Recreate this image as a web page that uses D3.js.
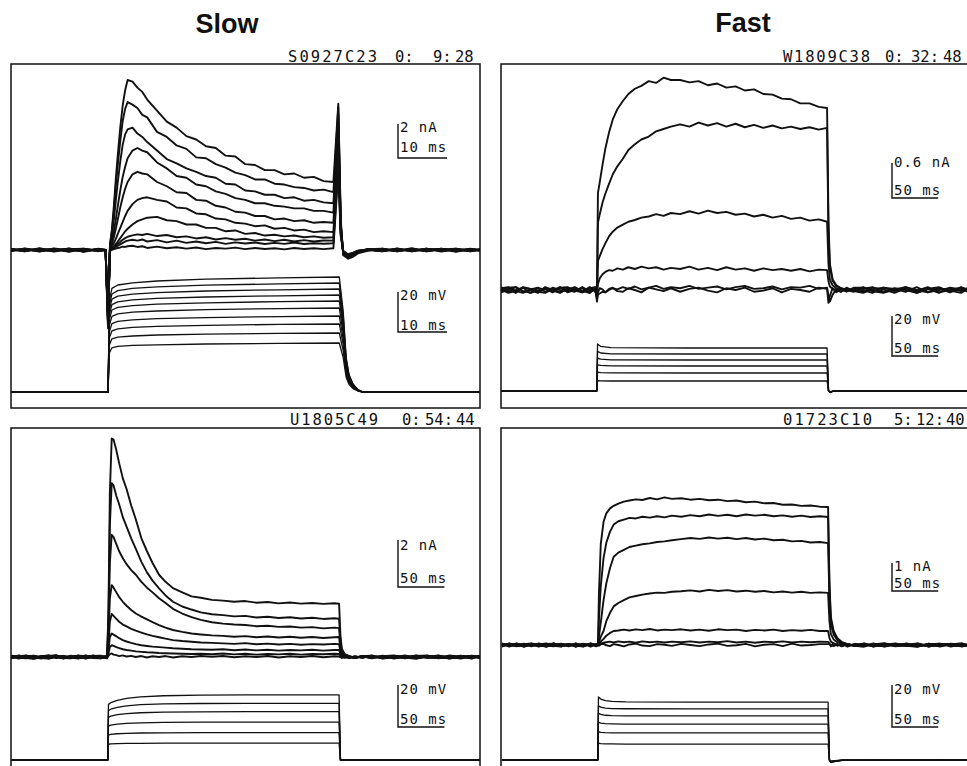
<!DOCTYPE html>
<html>
<head>
<meta charset="utf-8">
<script src="https://cdn.jsdelivr.net/npm/d3@7/dist/d3.min.js"></script>
<style>
  html, body { margin: 0; padding: 0; background: #fff; }
  svg { display: block; }
  .title { font-family: "Liberation Sans", Arial, sans-serif; font-weight: bold; font-size: 27px; fill: #111; }
  .hdr { font-family: "DejaVu Sans Mono", monospace; font-size: 15.5px; fill: #111; }
  .lbl { font-family: "DejaVu Sans Mono", monospace; font-size: 14px; letter-spacing: 1px; fill: #111; white-space: pre; }
</style>
</head>
<body>
<svg id="fig" width="967" height="766"></svg>
<script>
// ---------------- Slow channel, cell S0927C23 (10 ms scale) ----------------
const slowATime = [-20,-17,-14,-11,-8,-5,-2,-0.5, 0,0.4,0.8,1.2,1.6,2,2.5,3,3.5,4,
  5,6,7,8,10,12,14,16,18,20,22,24,26,28,30,32,34,36,38,40,42,44,46,
  46.5,47,47.5,48,49,50,51,53, 56,59,62,65,68,71,74,76];
// membrane current, nA
const slowACurrent = [
  [0.05,-0.08,0.1,-0.05,0.08,-0.1,0.04,0.0, -4.6,0.3,1.2,2.6,4.2,5.6,7.2,8.5,9.4,10.0, 9.9,9.55,9.3,8.85,8.2,7.55,7.2,6.7,6.5,6.1,6.0,5.55,5.5,5.05,5.0,4.7,4.7,4.45,4.5,4.25,4.3,4.05,4.0, 6.3,8.6,1.8,-0.3,-0.5,-0.4,-0.2,-0.05, 0.08,-0.06,0.1,-0.08,0.05,-0.1,0.06,0.0],
  [-0.06,0.09,-0.04,0.07,-0.1,0.05,-0.07,0.02, -4.4,0.3,1.1,2.3,3.8,5.0,6.4,7.6,8.3,8.7, 8.55,8.35,7.95,7.8,6.95,6.65,6.15,5.95,5.45,5.4,5.05,4.85,4.55,4.4,4.15,4.15,3.9,3.85,3.7,3.65,3.5,3.55,3.4, 5.9,8.4,1.6,-0.25,-0.45,-0.35,-0.15,0.04, -0.07,0.09,-0.05,0.07,-0.09,0.04,-0.06,0.03],
  [0.08,-0.05,0.06,-0.09,0.04,0.07,-0.05,0.0, -4.3,0.2,0.8,1.8,2.9,4.0,5.2,6.2,6.8,7.1, 7.2,6.85,6.65,6.35,5.85,5.35,5.1,4.8,4.6,4.35,4.25,3.9,3.85,3.5,3.45,3.25,3.25,3.05,3.1,2.9,2.95,2.8,2.75, 5.4,8.0,1.5,-0.2,-0.5,-0.3,-0.12,0.0, 0.06,-0.08,0.05,-0.04,0.08,-0.07,0.05,-0.03],
  [-0.04,0.06,-0.09,0.05,0.02,-0.08,0.07,0.0, -4.2,0.15,0.5,1.1,1.8,2.6,3.5,4.3,4.9,5.4, 5.85,6.0,5.85,5.75,5.15,4.8,4.35,4.25,3.85,3.75,3.45,3.3,3.05,2.95,2.75,2.75,2.6,2.55,2.45,2.45,2.3,2.3,2.2, 4.9,7.6,1.4,-0.2,-0.45,-0.3,-0.1,0.03, -0.05,0.07,-0.08,0.04,0.06,-0.05,0.08,-0.04],
  [0.07,-0.03,0.05,-0.06,0.09,-0.04,0.03,0.0, -4.1,0.1,0.35,0.75,1.25,1.8,2.5,3.1,3.6,4.0, 4.45,4.6,4.5,4.45,4.0,3.75,3.4,3.35,2.95,2.9,2.6,2.5,2.25,2.2,2.0,2.0,1.8,1.85,1.7,1.75,1.6,1.65,1.6, 4.2,7.0,1.3,-0.15,-0.4,-0.25,-0.08,0.05, 0.04,-0.06,0.07,-0.05,0.03,0.08,-0.06,0.02],
  [-0.05,0.08,-0.02,0.06,-0.07,0.04,-0.03,0.0, -4.0,0.05,0.2,0.4,0.65,0.95,1.3,1.65,2.0,2.3, 2.7,2.95,3.05,3.1,2.95,2.85,2.5,2.45,2.15,2.1,1.85,1.8,1.6,1.55,1.4,1.45,1.25,1.3,1.15,1.2,1.05,1.1,1.05, 3.6,6.5,1.2,-0.15,-0.4,-0.25,-0.1,0.0, -0.08,0.05,-0.04,0.08,-0.06,0.03,-0.07,0.04],
  [0.03,-0.07,0.08,-0.03,0.05,-0.09,0.06,0.0, -3.9,0.02,0.1,0.2,0.35,0.5,0.7,0.9,1.1,1.25, 1.5,1.7,1.8,1.9,1.95,1.75,1.7,1.5,1.5,1.3,1.3,1.1,1.15,0.95,1.0,0.85,0.9,0.8,0.85,0.75,0.8,0.72,0.75, 3.3,6.0,1.1,-0.1,-0.35,-0.2,-0.05,0.04, 0.07,-0.04,0.06,-0.08,0.05,-0.03,0.06,-0.02],
  [-0.07,0.04,-0.06,0.09,-0.03,0.06,-0.04,0.0, -3.8,0.02,0.08,0.15,0.25,0.35,0.48,0.6,0.7,0.78, 0.86,0.92,0.88,0.95,0.82,0.88,0.75,0.8,0.68,0.75,0.62,0.7,0.6,0.66,0.55,0.62,0.52,0.6,0.5,0.58,0.5,0.56,0.55, 3.0,5.5,1.0,-0.1,-0.3,-0.2,-0.06,0.02, -0.04,0.06,-0.07,0.05,-0.05,0.07,-0.03,0.05],
  [0.05,-0.05,0.03,-0.07,0.07,-0.02,0.05,0.0, -3.7,0.0,0.05,0.1,0.18,0.25,0.33,0.42,0.5,0.55, 0.6,0.55,0.62,0.5,0.58,0.45,0.55,0.42,0.5,0.4,0.48,0.36,0.45,0.38,0.44,0.35,0.42,0.36,0.44,0.35,0.4,0.37,0.4, 2.7,5.0,0.9,-0.08,-0.3,-0.18,-0.05,0.0, 0.05,-0.07,0.04,-0.06,0.07,-0.05,0.04,-0.06],
  [-0.03,0.06,-0.08,0.03,-0.05,0.08,-0.06,0.0, -3.6,-0.05,0.0,0.05,0.08,0.12,0.15,0.2,0.18,0.22, 0.25,0.18,0.22,0.12,0.2,0.1,0.16,0.08,0.15,0.05,0.12,0.08,0.14,0.05,0.12,0.06,0.1,0.04,0.12,0.06,0.1,0.05,0.1, 2.4,4.5,0.8,-0.05,-0.25,-0.15,-0.04,0.03, -0.06,0.04,-0.05,0.08,-0.04,0.05,-0.08,0.03]
];
const slowAVoltTime = [-20,0,0.3,0.8,2,5,10,20,35,47.2,48,48.6,49.2,50,51,52,76];
// command potential above holding, mV
const slowAVolt = [
  [0,0,46,51.8,53.5,54.6,55.5,56.4,57.1,57.5,40.3,17.3,8.6,4.0,1.2,0,0],
  [0,0,43.6,49,50.7,51.8,52.6,53.4,54.1,54.5,38.2,16.4,8.2,3.8,1.1,0,0],
  [0,0,41.2,46.4,47.9,48.9,49.7,50.5,51.1,51.5,36,15.5,7.7,3.6,1,0,0],
  [0,0,38.8,43.7,45.1,46.1,46.8,47.5,48.1,48.5,34,14.6,7.3,3.4,1,0,0],
  [0,0,36.4,41,42.3,43.2,43.9,44.6,45.2,45.5,31.9,13.7,6.8,3.2,0.9,0,0],
  [0,0,33.6,37.8,39.1,39.9,40.5,41.2,41.7,42,29.4,12.6,6.3,2.9,0.8,0,0],
  [0,0,30.4,34.2,35.3,36.1,36.7,37.2,37.7,38,26.6,11.4,5.7,2.7,0.8,0,0],
  [0,0,27.2,30.6,31.6,32.3,32.8,33.3,33.8,34,23.8,10.2,5.1,2.4,0.7,0,0],
  [0,0,23.6,26.6,27.4,28,28.5,28.9,29.3,29.5,20.7,8.9,4.4,2.1,0.6,0,0],
  [0,0,19.6,22.1,22.8,23.3,23.6,24,24.3,24.5,17.2,7.4,3.7,1.7,0.5,0,0]
];
const slowAHeader = ["S0927C23", "0:", "9:", "28"];
const slowABars = { current: 2, voltage: 20, time: 10 };

// ---------------- Fast channel, cell W1809C38 (50 ms scale) ----------------
const fastTime = [-104,-96,-88,-80,-72,-64,-56,-48,-40,-32,-24,-16,-8,-2,
  0,1,3,6,9,13,17,22,28,34,41,48,56,64,72,80,
  90,100,110,120,130,140,150,160,170,180,190,200,210,220,230,240,
  249, 250.5,252,255,259,264,270,278,
  288,298,310,322,334,346,358,370,382,394,403];
const fastACurrent = [
  [0.03,0.05,-0.02,-0.05,0.01,0.04,-0.03,-0.01,0.05,-0.04,0.0,0.03,-0.05,0.02, -0.1,1.66,1.85,2.15,2.42,2.7,2.92,3.1,3.24,3.36,3.45,3.5,3.58,3.55,3.64,3.6, 3.6,3.56,3.58,3.51,3.54,3.47,3.49,3.42,3.44,3.36,3.35,3.28,3.27,3.2,3.2,3.14, 3.12, 1.2,0.45,0.18,0.08,0.03,0.0,-0.03, 0.05,-0.01,-0.04,0.03,0.0,-0.05,0.02,0.05,-0.03,0.01,-0.02],
  [-0.04,0.0,0.05,-0.02,-0.05,0.03,0.01,-0.03,0.04,0.05,-0.01,-0.04,0.02,-0.02, -0.12,1.15,1.3,1.5,1.65,1.82,1.98,2.12,2.25,2.4,2.5,2.58,2.63,2.72,2.76,2.8, 2.84,2.8,2.87,2.82,2.86,2.8,2.85,2.79,2.83,2.78,2.82,2.77,2.8,2.76,2.79,2.75, 2.78, 1.0,0.4,0.16,0.07,0.03,0.0,0.02, -0.03,0.04,0.01,-0.05,0.03,-0.01,0.05,-0.04,0.0,0.04,-0.05],
  [0.01,-0.05,-0.02,0.04,0.02,-0.04,0.05,-0.01,-0.05,0.03,0.0,-0.03,0.05,-0.01, -0.1,0.5,0.58,0.7,0.8,0.92,1.0,1.07,1.12,1.17,1.2,1.24,1.26,1.3,1.27,1.32, 1.3,1.35,1.31,1.36,1.32,1.34,1.29,1.31,1.26,1.29,1.24,1.27,1.22,1.24,1.19,1.21, 1.17, 0.45,0.18,0.08,0.03,0.01,-0.02,0.02, 0.02,0.05,-0.03,-0.01,0.04,-0.05,0.01,0.03,-0.04,0.05,0.0],
  [-0.02,0.04,0.05,-0.03,0.0,-0.05,0.03,0.02,-0.04,0.01,0.05,-0.02,-0.05,0.04, -0.08,0.1,0.2,0.27,0.31,0.34,0.33,0.37,0.35,0.39,0.36,0.4,0.37,0.39,0.35,0.38, 0.36,0.4,0.35,0.38,0.34,0.39,0.35,0.37,0.33,0.37,0.34,0.36,0.33,0.36,0.32,0.35, 0.34, 0.15,0.06,0.02,0.0,-0.03,0.02,-0.02, -0.05,0.01,0.04,-0.02,0.05,0.0,-0.04,0.03,-0.01,-0.05,0.04],
  [0.05,-0.03,0.0,0.04,-0.05,-0.01,0.03,-0.04,0.04,0.0,-0.03,0.05,-0.02,0.01, -0.15,-0.08,-0.06,-0.03,-0.04,0.0,0.03,0.01,0.05,0.02,0.06,0.01,0.04,0.07,0.02,0.05, 0.03,0.07,0.02,0.04,0.06,0.01,0.05,0.07,0.02,0.03,0.06,0.01,0.05,0.04,0.07,0.02, 0.04, -0.1,-0.2,-0.08,0.02,-0.03,0.04,-0.02, 0.0,-0.05,0.04,0.02,-0.03,0.05,-0.04,0.0,0.03,-0.02,0.05],
  [-0.01,0.03,-0.05,0.05,0.02,-0.03,-0.05,0.04,0.0,-0.02,0.04,-0.04,0.03,0.05, -0.2,-0.04,0.03,0.01,-0.04,0.02,0.04,-0.02,-0.03,0.03,0.0,-0.04,0.04,0.01,-0.02,0.03, -0.03,0.02,0.04,-0.01,-0.04,0.03,0.0,0.04,-0.03,-0.01,0.03,-0.04,0.02,0.0,-0.03,0.04, 0.02, -0.22,-0.1,0.03,-0.04,0.02,-0.03,0.04, 0.04,-0.02,-0.05,0.01,0.05,-0.03,0.02,-0.05,0.04,0.01,-0.03]
];
const fastAVoltTime = [-104,-0.3,0.6,4,15,100,249,250.6,252.5,256,403];
const fastAVolt = [
  [0,0,23.5,22.3,21.7,21.5,21.5,0,-0.8,0,0],
  [0,0,19.8,19,18.6,18.5,18.5,0,-0.7,0,0],
  [0,0,16.4,15.9,15.6,15.5,15.5,0,-0.6,0,0],
  [0,0,13.1,12.8,12.6,12.5,12.5,0,-0.5,0,0],
  [0,0,9.4,9.2,9.05,9,9,0,-0.4,0,0],
  [0,0,5.2,5.1,5,5,5,0,-0.3,0,0]
];
const fastAHeader = ["W1809C38", "0:", "32:", "48"];
const fastABars = { current: 0.6, voltage: 20, time: 50 };

// ---------------- Slow channel, cell U1805C49 (50 ms scale) ----------------
const slowBTime = [-104,-96,-88,-80,-72,-64,-56,-48,-40,-32,-24,-16,-8,-1,
  0.5,2,4,6,9,12,16,20,25,30,36,42,48,55,62,70,80,90,100,
  112,124,136,148,160,172,184,196,208,220,232,244,
  249, 250.5,252,255,260,266,274,
  284,296,308,320,332,344,356,368,380,392,401];
const slowBCurrent = [
  [0.06,0.02,-0.05,-0.08,0.03,0.07,-0.02,-0.06,0.05,0.0,-0.07,0.04,0.06,-0.03, 2.0,7.0,9.3,9.25,8.8,8.25,7.6,7.15,6.45,5.85,5.05,4.5,4.0,3.5,3.2,2.93,2.75,2.58,2.52, 2.43,2.4,2.35,2.38,2.31,2.34,2.28,2.32,2.27,2.3,2.26,2.29, 2.27, 0.9,0.35,0.12,0.04,-0.03,0.04, -0.05,0.03,0.07,-0.02,-0.08,0.04,0.01,-0.06,0.06,-0.01,0.03],
  [-0.04,0.06,0.01,-0.07,-0.02,0.05,0.08,-0.04,-0.06,0.02,0.06,-0.03,0.0,0.05, 1.6,5.6,7.4,7.3,6.85,6.5,5.95,5.55,5.05,4.6,4.05,3.6,3.25,2.92,2.62,2.35,2.15,2.02,1.9, 1.82,1.78,1.73,1.75,1.68,1.71,1.66,1.69,1.64,1.67,1.62,1.65, 1.63, 0.65,0.26,0.1,0.03,-0.04,0.03, 0.06,-0.04,-0.01,0.07,-0.06,0.02,0.05,-0.07,0.0,0.04,-0.05],
  [0.02,-0.07,0.05,0.03,-0.04,-0.01,0.07,-0.05,0.02,0.06,-0.06,-0.02,0.05,-0.04, 1.2,4.0,5.2,5.1,4.8,4.5,4.2,3.95,3.7,3.5,3.2,2.95,2.75,2.5,2.3,2.05,1.85,1.7,1.58, 1.48,1.42,1.38,1.36,1.31,1.33,1.28,1.3,1.25,1.27,1.22,1.25, 1.23, 0.5,0.2,0.08,0.02,-0.03,0.03, -0.02,0.05,-0.07,0.01,0.06,-0.03,-0.05,0.07,0.0,-0.06,0.03],
  [-0.06,0.01,0.06,-0.03,0.05,-0.07,0.0,0.04,-0.05,0.07,0.02,-0.04,-0.06,0.03, 0.8,2.5,3.06,2.95,2.75,2.55,2.35,2.18,2.0,1.85,1.72,1.6,1.48,1.36,1.25,1.15,1.07,1.0,0.96, 0.92,0.9,0.86,0.89,0.84,0.87,0.83,0.86,0.82,0.85,0.81,0.84, 0.85, 0.35,0.14,0.05,0.01,-0.04,0.02, 0.04,-0.06,0.02,0.05,-0.04,0.0,0.07,-0.05,-0.02,0.06,-0.03],
  [0.04,-0.03,-0.06,0.05,0.0,0.07,-0.05,0.02,-0.02,-0.07,0.05,0.03,-0.04,0.06, 0.5,1.5,1.83,1.75,1.62,1.5,1.38,1.3,1.2,1.12,1.04,0.96,0.9,0.84,0.78,0.72,0.68,0.65,0.62, 0.6,0.58,0.56,0.59,0.54,0.57,0.53,0.56,0.52,0.55,0.53,0.56, 0.55, 0.22,0.09,0.03,0.0,-0.04,0.03, -0.06,0.02,0.05,-0.05,0.07,-0.01,-0.04,0.04,0.02,-0.07,0.05],
  [-0.02,0.07,-0.04,0.0,-0.07,0.04,0.05,-0.03,0.06,-0.05,-0.01,0.06,-0.06,0.01, 0.3,0.85,1.0,0.95,0.88,0.8,0.72,0.66,0.6,0.55,0.5,0.47,0.44,0.42,0.4,0.37,0.35,0.33,0.32, 0.31,0.33,0.29,0.32,0.28,0.31,0.27,0.3,0.28,0.31,0.27,0.3, 0.3, 0.12,0.05,0.0,-0.03,0.02,-0.04, 0.05,-0.07,0.0,0.03,-0.04,0.06,-0.02,-0.06,0.05,0.02,-0.04],
  [0.05,-0.05,0.03,0.06,-0.04,-0.07,0.02,0.05,-0.01,-0.05,0.07,-0.02,0.03,-0.06, 0.15,0.42,0.5,0.47,0.42,0.38,0.33,0.3,0.27,0.24,0.22,0.2,0.19,0.17,0.16,0.15,0.14,0.13,0.14, 0.12,0.15,0.11,0.14,0.1,0.13,0.11,0.14,0.1,0.13,0.12,0.14, 0.13, 0.05,0.0,-0.04,0.02,-0.03,0.04, -0.03,0.06,-0.05,-0.01,0.04,0.07,-0.06,0.01,-0.04,0.05,-0.02],
  [-0.05,0.03,0.07,-0.06,0.01,-0.03,0.06,-0.07,0.04,0.02,-0.05,0.07,-0.01,-0.04, 0.05,0.12,0.15,0.1,0.08,0.04,0.07,0.02,0.05,0.0,0.04,-0.02,0.03,0.0,0.04,-0.02,0.03,0.0,0.04, 0.01,0.04,-0.01,0.03,0.0,0.04,-0.02,0.03,0.0,0.04,-0.01,0.03, 0.02, 0.0,-0.04,0.03,-0.05,0.04,-0.03, 0.07,-0.03,0.02,-0.06,0.05,-0.04,0.06,0.0,-0.07,0.03,0.05]
];
const slowBVoltTime = [-104,-0.3,0.5,3,10,20,35,60,100,150,249,250.5,401];
const slowBVolt = [
  [0,0,26.5,27.3,28.4,29.3,30.1,30.6,30.9,31,31,0,0],
  [0,0,23.5,24.2,25.1,25.8,26.4,26.7,26.9,27,27,0,0],
  [0,0,20.3,20.9,21.6,22.1,22.5,22.8,22.9,23,23,0,0],
  [0,0,16.2,16.6,17.1,17.4,17.7,17.9,18,18,18,0,0],
  [0,0,11.9,12.2,12.5,12.7,12.85,12.95,13,13,13,0,0],
  [0,0,7.5,7.7,7.8,7.9,7.95,8,8,8,8,0,0]
];
const slowBHeader = ["U1805C49", "0:", "54:", "44"];
const slowBBars = { current: 2, voltage: 20, time: 50 };

// ---------------- Fast channel, cell 01723C10 (50 ms scale) ----------------
const fastBCurrent = [
  [0.05,0.0,-0.05,0.03,0.06,-0.02,-0.06,0.04,0.01,-0.04,0.06,-0.03,0.02,-0.05, 0.0,1.8,3.6,4.4,4.7,4.88,4.97,5.05,5.12,5.16,5.2,5.18,5.25,5.2,5.27,5.22, 5.24,5.19,5.22,5.17,5.19,5.14,5.16,5.1,5.12,5.06,5.07,5.01,5.02,4.97,4.98,4.94, 4.93, 2.2,1.0,0.5,0.25,0.1,0.03,-0.03, 0.04,-0.05,0.01,0.06,-0.03,-0.06,0.03,0.05,-0.02,-0.05,0.04],
  [-0.04,0.05,0.02,-0.06,0.03,0.0,-0.05,0.06,-0.02,0.04,-0.06,0.01,0.05,-0.03, 0.0,0.9,2.1,3.1,3.65,4.05,4.3,4.42,4.48,4.54,4.52,4.58,4.55,4.6,4.56,4.62, 4.58,4.64,4.6,4.66,4.61,4.65,4.6,4.66,4.62,4.65,4.6,4.63,4.58,4.62,4.57,4.6, 4.57, 2.0,0.9,0.45,0.22,0.09,0.02,-0.04, -0.03,0.02,0.06,-0.04,-0.01,0.05,-0.06,0.03,0.04,-0.05,0.0],
  [0.02,-0.06,0.05,0.01,-0.04,0.06,-0.02,-0.05,0.04,0.02,-0.06,0.05,-0.01,0.03, 0.0,0.3,0.8,1.6,2.2,2.75,3.15,3.3,3.4,3.5,3.55,3.6,3.63,3.68,3.7,3.74, 3.78,3.82,3.79,3.84,3.8,3.83,3.78,3.82,3.77,3.8,3.74,3.76,3.7,3.72,3.66,3.68, 3.64, 1.6,0.75,0.38,0.18,0.07,0.01,-0.03, 0.06,-0.02,-0.05,0.04,0.0,-0.06,0.05,-0.03,0.02,0.06,-0.04],
  [-0.06,0.03,-0.01,0.05,-0.05,0.02,0.06,-0.03,-0.06,0.04,0.0,-0.04,0.06,-0.02, 0.0,0.1,0.3,0.5,0.85,1.15,1.38,1.5,1.6,1.7,1.75,1.8,1.84,1.87,1.86,1.9, 1.92,1.95,1.91,1.97,1.93,1.96,1.91,1.94,1.9,1.93,1.88,1.91,1.87,1.9,1.86,1.88, 1.86, 0.85,0.4,0.2,0.1,0.04,-0.02,0.03, -0.02,0.06,-0.06,0.01,0.04,-0.04,0.05,-0.06,0.02,0.03,-0.05],
  [0.03,-0.02,0.06,-0.05,0.01,-0.06,0.04,0.05,-0.03,-0.01,0.05,-0.05,0.03,0.0, 0.0,0.05,0.12,0.22,0.33,0.43,0.5,0.52,0.55,0.52,0.56,0.53,0.57,0.52,0.55,0.53, 0.56,0.52,0.55,0.51,0.56,0.53,0.55,0.5,0.54,0.52,0.55,0.5,0.53,0.51,0.54,0.5, 0.5, 0.25,0.12,0.06,0.02,-0.03,0.04,-0.02, 0.05,-0.06,0.02,-0.02,0.06,-0.04,-0.01,0.05,-0.06,0.03,0.01],
  [-0.01,0.06,-0.04,-0.02,0.05,0.03,-0.06,0.0,0.05,-0.05,0.02,0.04,-0.06,0.03, 0.0,0.02,0.05,0.08,0.1,0.12,0.09,0.13,0.1,0.12,0.08,0.13,0.1,0.12,0.09,0.12, 0.1,0.13,0.09,0.12,0.1,0.14,0.09,0.12,0.08,0.12,0.1,0.13,0.09,0.12,0.1,0.12, 0.11, 0.05,0.0,-0.04,0.03,-0.05,0.04,-0.03, -0.06,0.03,0.04,-0.05,0.01,0.06,-0.03,-0.04,0.05,0.0,-0.05],
  [0.06,-0.04,0.0,-0.06,0.04,0.01,-0.03,0.06,-0.05,0.02,-0.02,-0.06,0.05,0.01, 0.0,-0.03,0.02,0.04,-0.01,-0.04,0.03,0.0,-0.05,0.02,0.05,-0.02,-0.04,0.03,0.01,-0.03, 0.04,0.0,-0.04,0.02,0.05,-0.03,-0.01,0.04,-0.05,0.01,0.03,-0.04,0.05,-0.02,0.0,0.03, 0.03, 0.04,-0.05,0.06,-0.03,0.05,-0.06,0.04, 0.02,-0.05,0.06,0.0,-0.04,0.05,-0.06,0.04,0.01,-0.05,0.06]
];
const fastBVoltTime = [-104,-0.3,0.5,3,8,15,30,100,249,250.5,252,256,264,403];
const fastBVolt = [
  [0,0,30,29,28.3,27.9,27.7,27.6,27.6,0,-1.2,-0.8,-0.2,0],
  [0,0,25.8,25.2,24.7,24.5,24.4,24.3,24.3,0,-1.0,-0.7,-0.2,0],
  [0,0,22.2,21.7,21.3,21.1,21,21,21,0,-0.9,-0.6,-0.2,0],
  [0,0,18,17.6,17.3,17.2,17.1,17.1,17.1,0,-0.8,-0.5,-0.1,0],
  [0,0,13.5,13.2,13,12.95,12.9,12.9,12.9,0,-0.7,-0.4,-0.1,0],
  [0,0,8,7.8,7.7,7.65,7.6,7.6,7.6,0,-0.6,-0.3,-0.1,0]
];
const fastBHeader = ["01723C10", "5:", "12:", "40"];
const fastBBars = { current: 1, voltage: 20, time: 50 };

const columnTitles = ["Slow", "Fast"];

// ---------------- drawing ----------------
const svg = d3.select("#fig");
const INK = "#111";

function makePanel(cfg) {
  return {
    ...cfg,
    x: d3.scaleLinear().domain([0, cfg.bars.time]).range([cfg.t0, cfg.t0 + cfg.pxTime]),
    yI: d3.scaleLinear().domain([0, cfg.bars.current]).range([cfg.iBase, cfg.iBase - cfg.pxCurrent]),
    yV: d3.scaleLinear().domain([0, cfg.bars.voltage]).range([cfg.vBase, cfg.vBase - cfg.pxVolt])
  };
}

// headerX: left edge of each header token; idWidth: fitted width of the file id
const panels = [
  makePanel({ box: [11, 64, 480, 408], headerY: 62, header: slowAHeader,
    headerX: [288, 395, 433, 455], idWidth: 89,
    t0: 108, pxTime: 49, iBase: 250, pxCurrent: 34, vBase: 392, pxVolt: 40, bars: slowABars,
    time: slowATime, current: slowACurrent, vTime: slowAVoltTime, volt: slowAVolt,
    iBar: { x: 398, y: 158, l1: 132, l2: 152 }, vBar: { x: 398, y: 332, l1: 300, l2: 330 } }),
  makePanel({ box: [501, 64, 975, 408], headerY: 62, header: fastAHeader,
    headerX: [783, 885, 911, 943], idWidth: 87,
    t0: 597, pxTime: 46.2, iBase: 290, pxCurrent: 35, vBase: 391, pxVolt: 40, bars: fastABars,
    time: fastTime, current: fastACurrent, vTime: fastAVoltTime, volt: fastAVolt,
    iBar: { x: 892, y: 198, l1: 167, l2: 195 }, vBar: { x: 892, y: 356, l1: 324, l2: 353 } }),
  makePanel({ box: [11, 428, 480, 775], headerY: 425, header: slowBHeader,
    headerX: [290, 402, 425, 456], idWidth: 88,
    t0: 108, pxTime: 46.4, iBase: 657, pxCurrent: 47, vBase: 760, pxVolt: 42, bars: slowBBars,
    time: slowBTime, current: slowBCurrent, vTime: slowBVoltTime, volt: slowBVolt,
    iBar: { x: 398, y: 587, l1: 550, l2: 583 }, vBar: { x: 398, y: 727, l1: 694, l2: 724 } }),
  makePanel({ box: [501, 428, 975, 775], headerY: 425, header: fastBHeader,
    headerX: [783, 894, 916, 946], idWidth: 89,
    t0: 598, pxTime: 46.2, iBase: 645, pxCurrent: 28, vBase: 760, pxVolt: 42, bars: fastBBars,
    time: fastTime, current: fastBCurrent, vTime: fastBVoltTime, volt: fastBVolt,
    iBar: { x: 892, y: 591, l1: 571, l2: 588 }, vBar: { x: 892, y: 727, l1: 694, l2: 724 } })
];

// column titles
svg.append("text").attr("class", "title").attr("text-anchor", "middle")
  .attr("x", 227).attr("y", 33).text(columnTitles[0]);
svg.append("text").attr("class", "title").attr("text-anchor", "middle")
  .attr("x", 743).attr("y", 32).text(columnTitles[1]);

function scaleBar(g, p, bar, yScale, amount, unit) {
  const h = yScale(0) - yScale(amount);
  const w = p.x(p.bars.time) - p.x(0);
  g.append("path")
    .attr("d", `M${bar.x},${bar.y - h}V${bar.y}H${bar.x + w}`)
    .attr("fill", "none").attr("stroke", INK).attr("stroke-width", 1.4);
  g.append("text").attr("class", "lbl").attr("x", bar.x + 2).attr("y", bar.l1)
    .text(`${amount} ${unit}`);
  g.append("text").attr("class", "lbl").attr("x", bar.x + 2).attr("y", bar.l2)
    .text(`${p.bars.time} ms`);
}

panels.forEach(p => {
  const g = svg.append("g");
  const [bx0, by0, bx1, by1] = p.box;
  const clipId = "clip" + bx0 + "_" + by0;
  svg.append("clipPath").attr("id", clipId).append("rect")
    .attr("x", bx0).attr("y", by0).attr("width", bx1 - bx0).attr("height", by1 - by0);

  // header: file id and time stamp
  p.header.forEach((txt, i) => {
    const t = g.append("text").attr("class", "hdr").attr("x", p.headerX[i]).attr("y", p.headerY).text(txt);
    if (i === 0) t.attr("textLength", p.idWidth).attr("lengthAdjust", "spacing");
  });

  const traces = g.append("g").attr("clip-path", `url(#${clipId})`);

  // command voltage family
  const vLine = d3.line().x(d => p.x(d[0])).y(d => p.yV(d[1]));
  p.volt.forEach(v => {
    traces.append("path").datum(d3.zip(p.vTime, v)).attr("d", vLine)
      .attr("fill", "none").attr("stroke", INK).attr("stroke-width", 1.3)
      .attr("stroke-linejoin", "round");
  });

  // membrane current family
  const iLine = d3.line().x(d => p.x(d[0])).y(d => p.yI(d[1]));
  p.current.forEach(c => {
    traces.append("path").datum(d3.zip(p.time, c)).attr("d", iLine)
      .attr("fill", "none").attr("stroke", INK).attr("stroke-width", 1.9)
      .attr("stroke-linejoin", "round");
  });

  // frame
  g.append("rect").attr("x", bx0).attr("y", by0)
    .attr("width", bx1 - bx0).attr("height", by1 - by0)
    .attr("fill", "none").attr("stroke", INK).attr("stroke-width", 1.5);

  scaleBar(g, p, p.iBar, p.yI, p.bars.current, "nA");
  scaleBar(g, p, p.vBar, p.yV, p.bars.voltage, "mV");
});
</script>
</body>
</html>
